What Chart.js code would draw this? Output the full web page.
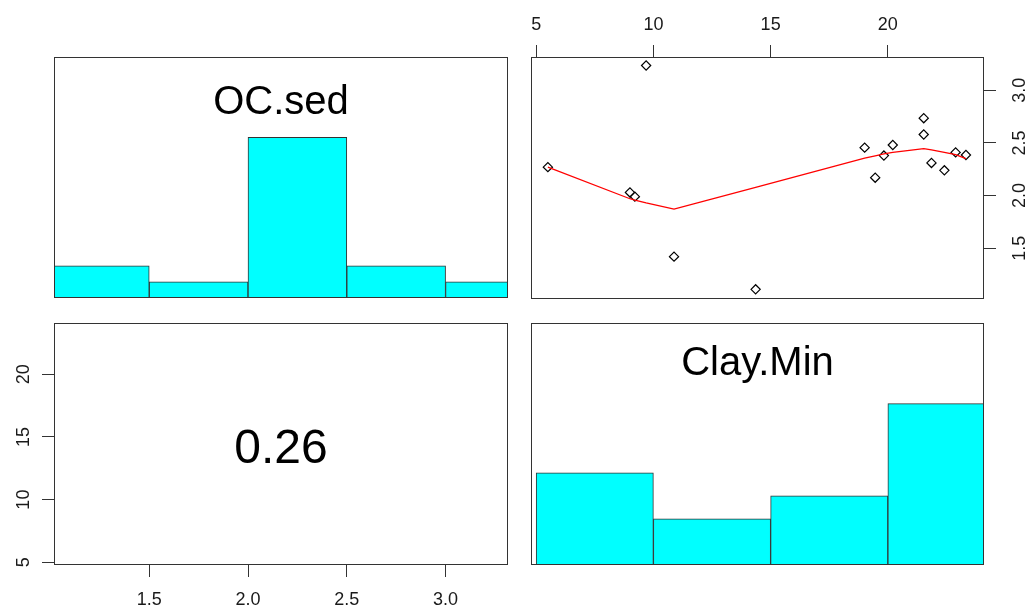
<!DOCTYPE html>
<html>
<head>
<meta charset="utf-8">
<script src="https://cdn.jsdelivr.net/npm/chart.js@4"></script>
<style>
  body { margin: 0; background: #fff; }
  #page { position: relative; width: 1027px; height: 609px; overflow: hidden; font-family: "Liberation Sans", Arial, sans-serif; }
  canvas, .lbl { position: absolute; }
  .lbl { text-align: center; color: #000; white-space: nowrap; }
</style>
</head>
<body>
<div id="page">
  <canvas id="histOC" style="left:53px;top:56px" width="456" height="243"></canvas>
  <canvas id="scatter" style="left:520px;top:0px" width="507" height="310"></canvas>
  <canvas id="corr" style="left:0px;top:310px" width="520" height="299"></canvas>
  <canvas id="histClay" style="left:530px;top:322px" width="455" height="244"></canvas>
  <div class="lbl" style="left:54px;width:454px;top:80px;font-size:40px;line-height:40px">OC.sed</div>
  <div class="lbl" style="left:531px;width:453px;top:341px;font-size:40px;line-height:40px">Clay.Min</div>
  <div class="lbl" style="left:54px;width:454px;top:423px;font-size:48px;line-height:48px">0.26</div>
</div>
<script>
// paired observations (scatter in the upper panel)
const clayMin = [5.5, 9.0, 9.21, 9.69, 10.88, 14.36, 19.01, 19.46, 19.83, 20.21, 21.53, 21.53, 21.86, 22.41, 22.89, 23.33];
const ocSed   = [2.27, 2.03, 1.99, 3.235, 1.42, 1.11, 2.455, 2.17, 2.38, 2.48, 2.735, 2.58, 2.31, 2.24, 2.41, 2.385];

// lowess smooth (red line)
const smoothX = [5.5, 9.0, 9.21, 9.69, 10.88, 14.36, 19.01, 19.46, 19.83, 20.21, 21.53, 21.86, 22.41, 22.89, 23.33];
const smoothY = [2.27, 1.97, 1.957, 1.93, 1.871, 2.077, 2.356, 2.378, 2.397, 2.41, 2.445, 2.435, 2.41, 2.388, 2.35];

// histograms on the diagonal
const ocBinMids = [1.25, 1.75, 2.25, 2.75, 3.25];
const ocCounts = [2, 1, 10, 2, 1];
const clayBinMids = [7.5, 12.5, 17.5, 22.5];
const clayCounts = [4, 2, 3, 7];

// axis ranges and ticks
const ocRange = [1.018, 3.316];
const clayRange = [4.78, 24.1];
const ocTicks = [1.5, 2.0, 2.5, 3.0];
const clayTicks = [5, 10, 15, 20];

const corrText = '0.26';

Chart.defaults.font.family = '"Liberation Sans", Arial, sans-serif';
Chart.defaults.animation = false;
Chart.defaults.plugins.legend.display = false;
Chart.defaults.plugins.tooltip.enabled = false;

// R style box round every panel
const boxPlugin = {
  id: 'box',
  afterDraw(chart) {
    const { ctx, chartArea: a } = chart;
    ctx.save();
    ctx.strokeStyle = '#333';
    ctx.lineWidth = 1;
    ctx.strokeRect(a.left + 0.5, a.top + 0.5, a.right - a.left - 1, a.bottom - a.top - 1);
    ctx.restore();
  }
};

function axis(pos, range, tickVals, opts) {
  const o = opts || {};
  const vertical = pos === 'left' || pos === 'right';
  return {
    type: 'linear',
    display: o.show !== false,
    position: pos,
    min: range[0],
    max: range[1],
    offset: false,
    afterBuildTicks: s => { s.ticks = tickVals.map(v => ({ value: v })); },
    afterFit: s => {
      // no extra room for labels that hang over the ends
      s.paddingTop = s.paddingBottom = s.paddingLeft = s.paddingRight = 0;
      if (o.size == null) return;
      if (vertical) s.width = o.size; else s.height = o.size;
    },
    border: { display: false },
    grid: { offset: false, drawOnChartArea: false, drawTicks: true, tickLength: 12, tickColor: '#333', color: '#333' },
    ticks: {
      color: '#1a1a1a',
      font: { size: 18 },
      padding: o.pad || 10,
      autoSkip: false,
      minRotation: vertical ? 90 : 0,
      maxRotation: vertical ? 90 : 0,
      crossAlign: vertical ? 'center' : 'near',
      callback: v => v.toFixed(o.dec || 0)
    }
  };
}

function histogram(id, mids, counts, range, tickVals) {
  const maxCount = Math.max(...counts);
  new Chart(document.getElementById(id), {
    type: 'bar',
    data: {
      datasets: [{
        data: mids.map((m, i) => ({ x: m, y: counts[i] })),
        backgroundColor: '#00ffff',
        borderColor: '#333',
        borderWidth: 1,
        borderSkipped: false,
        barPercentage: 1,
        categoryPercentage: 1
      }]
    },
    options: {
      responsive: false,
      devicePixelRatio: 1,
      layout: { padding: 1, autoPadding: false },
      scales: {
        x: axis('bottom', range, tickVals, { show: false }),
        y: { display: false, min: 0, max: maxCount * 1.5 }
      }
    },
    plugins: [boxPlugin]
  });
}

histogram('histOC', ocBinMids, ocCounts, ocRange, ocTicks);
histogram('histClay', clayBinMids, clayCounts, clayRange, clayTicks);

// upper panel: Clay.Min (x, top) against OC.sed (y, right)
new Chart(document.getElementById('scatter'), {
  type: 'scatter',
  data: {
    datasets: [
      {
        type: 'line',
        data: smoothX.map((x, i) => ({ x: x, y: smoothY[i] })),
        borderColor: '#ff0000',
        borderWidth: 1.3,
        pointRadius: 0,
        tension: 0,
        fill: false
      },
      {
        data: clayMin.map((x, i) => ({ x: x, y: ocSed[i] })),
        pointStyle: 'rectRot',
        pointRadius: 4.6,
        borderColor: '#000',
        backgroundColor: 'rgba(0,0,0,0)',
        borderWidth: 1.2
      }
    ]
  },
  options: {
    responsive: false,
    devicePixelRatio: 1,
    layout: { padding: { left: 11, bottom: 11, top: 0, right: 0 }, autoPadding: false },
    scales: {
      x: axis('top', clayRange, clayTicks, { size: 57, pad: 9 }),
      y: axis('right', ocRange, ocTicks, { size: 43, pad: 12, dec: 1 })
    }
  },
  plugins: [boxPlugin]
});

// lower panel: OC.sed (x, bottom) against Clay.Min (y, left), correlation only
new Chart(document.getElementById('corr'), {
  type: 'scatter',
  data: { datasets: [] },
  options: {
    responsive: false,
    devicePixelRatio: 1,
    layout: { padding: { left: 0, bottom: 0, top: 13, right: 12 }, autoPadding: false },
    scales: {
      x: axis('bottom', ocRange, ocTicks, { size: 44, pad: 12, dec: 1 }),
      y: axis('left', clayRange, clayTicks, { size: 54, pad: 8 })
    }
  },
  plugins: [boxPlugin]
});
</script>
</body>
</html>
